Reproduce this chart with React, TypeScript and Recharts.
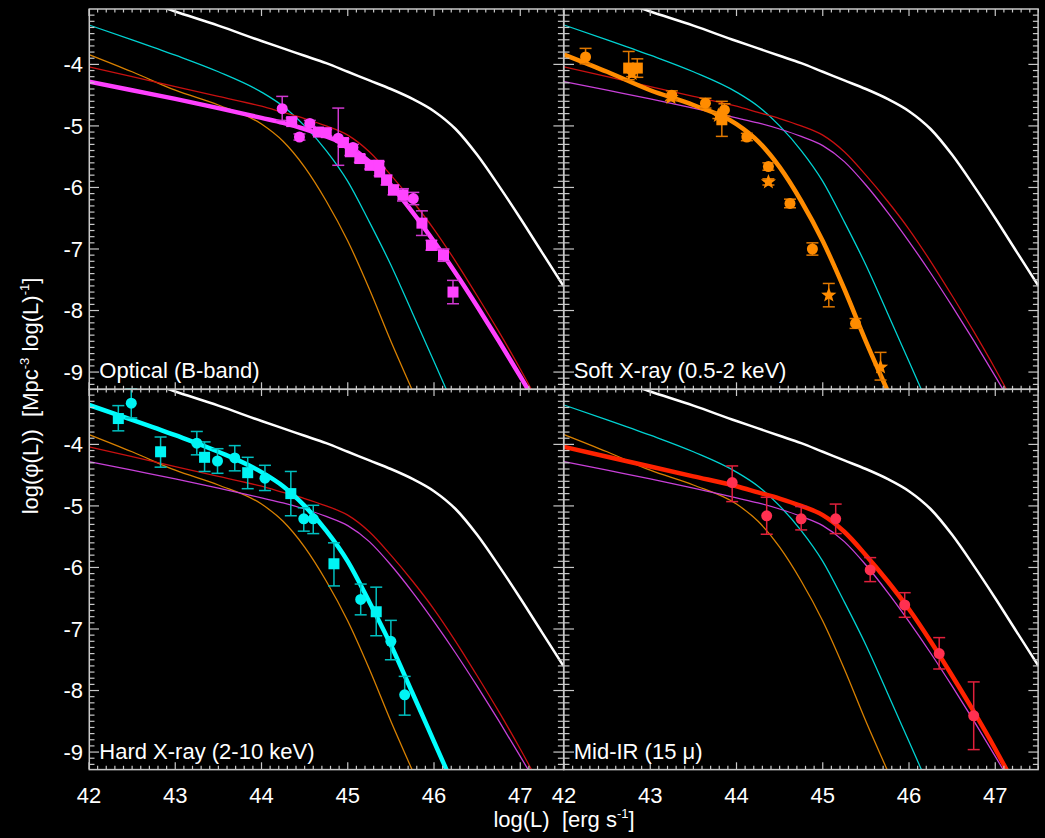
import React from 'react';
import { ComposedChart, Line, Scatter, XAxis, YAxis, ErrorBar } from 'recharts';

// ---------- model curves at a common log(L) grid ----------
const logL = [42, 42.5, 43, 43.5, 44, 44.25, 44.5, 44.75, 45, 45.25, 45.5, 45.75, 46, 46.25, 46.5, 46.75, 47, 47.25, 47.5];
const bolometricLF = [-2.68, -2.9, -3.14, -3.37, -3.62, -3.74, -3.86, -3.98, -4.12, -4.26, -4.4, -4.56, -4.76, -5.05, -5.47, -5.97, -6.5, -7.05, -7.6];
const hardLF = [-3.36, -3.6, -3.85, -4.12, -4.45, -4.68, -5.0, -5.4, -5.9, -6.56, -7.26, -8.04, -8.83, -9.62, null, null, null, null, null];
const softLF = [-3.84, -4.12, -4.42, -4.66, -4.97, -5.25, -5.67, -6.22, -6.87, -7.65, -8.5, -9.3, -10.1, null, null, null, null, null, null];
const midirLF = [-4.04, -4.2, -4.36, -4.52, -4.68, -4.78, -4.88, -5.0, -5.15, -5.42, -5.8, -6.22, -6.68, -7.2, -7.76, -8.34, -8.95, -9.6, null];
const opticalLF = [-4.28, -4.42, -4.56, -4.71, -4.87, -4.95, -5.05, -5.17, -5.32, -5.58, -5.96, -6.4, -6.88, -7.39, -7.93, -8.49, -9.07, -9.66, null];

// ---------- data points: [logL, logPhi, errDown, errUp] ----------
const opticalCircles = [
  [44.24, -4.72, 0.19, 0.2], [44.44, -5.18, 0.05, 0.05], [44.56, -4.96, 0.05, 0.05],
  [44.89, -5.2, 0.44, 0.49], [45.06, -5.35, 0.05, 0.05], [45.76, -6.18, 0.1, 0.1],
];
const opticalSquares = [
  [44.35, -4.93, 0.06, 0.06], [44.66, -5.1, 0.05, 0.05], [44.75, -5.11, 0.05, 0.05],
  [44.95, -5.27, 0.06, 0.06], [45.03, -5.42, 0.06, 0.06], [45.14, -5.53, 0.06, 0.06],
  [45.26, -5.64, 0.06, 0.06], [45.36, -5.64, 0.06, 0.06], [45.37, -5.75, 0.06, 0.06],
  [45.45, -5.88, 0.08, 0.08], [45.53, -6.04, 0.08, 0.08], [45.64, -6.12, 0.1, 0.1],
  [45.86, -6.58, 0.2, 0.2], [45.97, -6.94, 0.08, 0.08], [46.11, -7.1, 0.1, 0.1],
  [46.22, -7.7, 0.19, 0.19],
];
const softCircles = [
  [42.25, -3.88, 0.11, 0.14], [43.25, -4.5, 0.07, 0.07], [43.64, -4.63, 0.08, 0.08],
  [43.86, -4.74, 0.1, 0.1], [44.12, -5.18, 0.06, 0.06], [44.37, -5.66, 0.06, 0.06],
  [44.62, -6.26, 0.07, 0.07], [44.88, -7.0, 0.1, 0.1], [45.38, -8.21, 0.08, 0.08],
];
const softSquares = [
  [42.75, -4.06, 0.19, 0.27], [42.85, -4.06, 0.15, 0.15], [43.83, -4.9, 0.27, 0.3],
];
const softStars = [
  [42.79, -4.15, 0.05, 0.05], [43.24, -4.54, 0.05, 0.05], [43.79, -4.83, 0.05, 0.05],
  [44.37, -5.91, 0.05, 0.05], [45.07, -7.75, 0.19, 0.19], [45.67, -8.92, 0.21, 0.24],
];
const hardCircles = [
  [42.49, -3.33, 0.24, 0.23], [43.25, -3.98, 0.19, 0.19], [43.49, -4.27, 0.2, 0.2],
  [43.69, -4.22, 0.21, 0.2], [44.04, -4.55, 0.2, 0.21], [44.49, -5.21, 0.2, 0.18],
  [44.6, -5.21, 0.24, 0.22], [45.15, -6.52, 0.25, 0.25], [45.5, -7.2, 0.3, 0.34],
  [45.66, -8.07, 0.33, 0.3],
];
const hardSquares = [
  [42.34, -3.58, 0.2, 0.21], [42.83, -4.12, 0.25, 0.24], [43.34, -4.21, 0.23, 0.25],
  [43.84, -4.46, 0.26, 0.25], [44.34, -4.8, 0.36, 0.36], [44.84, -5.94, 0.36, 0.34],
  [45.33, -6.72, 0.39, 0.4],
];
const midirCircles = [
  [43.95, -4.62, 0.31, 0.27], [44.35, -5.16, 0.3, 0.3], [44.75, -5.21, 0.18, 0.2],
  [45.15, -5.21, 0.24, 0.24], [45.55, -6.04, 0.19, 0.2], [45.95, -6.61, 0.2, 0.2],
  [46.35, -7.4, 0.25, 0.26], [46.75, -8.41, 0.55, 0.55],
];

// ---------- tick labels ----------
const xTickLabels = [42, 43, 44, 45, 46, 47];
const yTickLabels = [-9, -8, -7, -6, -5, -4];
const X_DOMAIN: [number, number] = [42, 47.5];
const Y_DOMAIN: [number, number] = [-9.28, -3.1];

// minor tick positions every 0.1
const xTicks = Array.from({ length: 56 }, (_, i) => Math.round((42 + i * 0.1) * 10) / 10);
const yTicks = Array.from({ length: 61 }, (_, i) => Math.round((-9.2 + i * 0.1) * 10) / 10);

// ---------- layout ----------
const PW = 474.4;
const PH = 380.3;
const ML = 70, MR = 10, MT = 10, MB = 50;
const FONT = '"Liberation Sans", Arial, Helvetica, sans-serif';
const AXC = '#c8c8c8';

const curve = (vals: (number | null)[]) =>
  logL.map((L, i) => ({ L, v: vals[i] })).filter((d) => d.v !== null);
const pts = (arr: number[][]) => arr.map(([L, v, lo, hi]) => ({ L, v, e: [lo, hi] }));

const models: Record<string, { data: any[]; thin: string; thick: string }> = {
  cyan: { data: curve(hardLF), thin: '#00d2d2', thick: '#00ffff' },
  orange: { data: curve(softLF), thin: '#d88000', thick: '#ff8c00' },
  red: { data: curve(midirLF), thin: '#c81010', thick: '#ff2200' },
  magenta: { data: curve(opticalLF), thin: '#c840d8', thick: '#ff40ff' },
};
const whiteData = curve(bolometricLF);

const isInt = (v: number) => Math.abs(v - Math.round(v)) < 1e-6;

const makeXTick = (showLabels: boolean) => (props: any) => {
  const { x, y, payload } = props;
  const v = payload.value;
  const major = isInt(v);
  const len = major ? 7 : 3.5;
  const showLab = showLabels && major && xTickLabels.includes(Math.round(v));
  return (
    <g>
      <line x1={x} x2={x} y1={y} y2={y - len} stroke={AXC} strokeWidth={1.2} />
      <line x1={x} x2={x} y1={y - PH} y2={y - PH + len} stroke={AXC} strokeWidth={1.2} />
      {showLab && (
        <text x={x} y={y + 34} textAnchor="middle" fill="#ffffff" fontSize={22} fontFamily={FONT}>
          {Math.round(v)}
        </text>
      )}
    </g>
  );
};

const makeYTick = (showLabels: boolean) => (props: any) => {
  const { x, y, payload } = props;
  const v = payload.value;
  const major = isInt(v);
  const len = major ? 10 : 5.5;
  const showLab = showLabels && major && yTickLabels.includes(Math.round(v));
  return (
    <g>
      <line x1={x} x2={x + len} y1={y} y2={y} stroke={AXC} strokeWidth={1.2} />
      <line x1={x + PW} x2={x + PW - len} y1={y} y2={y} stroke={AXC} strokeWidth={1.2} />
      {showLab && (
        <text x={x - 6} y={y} dy="0.36em" textAnchor="end" fill="#ffffff" fontSize={22} fontFamily={FONT}>
          {`-${Math.abs(Math.round(v))}`}
        </text>
      )}
    </g>
  );
};

const circleShape = (fill: string) => (p: any) => <circle cx={p.cx} cy={p.cy} r={5.5} fill={fill} />;
const squareShape = (fill: string) => (p: any) => (
  <rect x={p.cx - 5.5} y={p.cy - 5.5} width={11} height={11} fill={fill} />
);
const starShape = (fill: string) => (p: any) => {
  const R = 8, r = 3.4;
  const ps: string[] = [];
  for (let i = 0; i < 10; i++) {
    const rad = i % 2 === 0 ? R : r;
    const a = -Math.PI / 2 + (i * Math.PI) / 5;
    ps.push(`${p.cx + rad * Math.cos(a)},${p.cy + rad * Math.sin(a)}`);
  }
  return <polygon points={ps.join(' ')} fill={fill} />;
};

type PanelProps = {
  left: number;
  top: number;
  hi: string;
  sets: { data: any[]; shape: any }[];
  errColor: string;
  xLabels: boolean;
  yLabels: boolean;
};

function Panel({ left, top, hi, sets, errColor, xLabels, yLabels }: PanelProps) {
  const others = ['cyan', 'orange', 'red', 'magenta'].filter((k) => k !== hi);
  return (
    <div style={{ position: 'absolute', left: left - ML, top: top - MT }}>
      <ComposedChart
        width={PW + ML + MR}
        height={PH + MT + MB}
        margin={{ top: MT, right: MR, bottom: MB - 1, left: ML - 1 }}
      >
        <XAxis
          type="number"
          dataKey="L"
          domain={X_DOMAIN}
          allowDataOverflow
          ticks={xTicks}
          interval={0}
          tickSize={0}
          tickMargin={0}
          tickLine={false}
          axisLine={false}
          height={1}
          tick={makeXTick(xLabels)}
        />
        <YAxis
          type="number"
          dataKey="v"
          domain={Y_DOMAIN}
          allowDataOverflow
          ticks={yTicks}
          interval={0}
          tickSize={0}
          tickMargin={0}
          tickLine={false}
          axisLine={false}
          width={1}
          tick={makeYTick(yLabels)}
        />
        {others.map((k) => (
          <Line
            key={k}
            data={models[k].data}
            dataKey="v"
            type="monotone"
            stroke={models[k].thin}
            strokeWidth={1.3}
            dot={false}
            isAnimationActive={false}
          />
        ))}
        <Line
          data={whiteData}
          dataKey="v"
          type="monotone"
          stroke="#ffffff"
          strokeWidth={2.5}
          dot={false}
          isAnimationActive={false}
        />
        <Line
          data={models[hi].data}
          dataKey="v"
          type="monotone"
          stroke={models[hi].thick}
          strokeWidth={4.5}
          dot={false}
          isAnimationActive={false}
        />
        {sets.map((s, i) => (
          <Scatter key={i} data={s.data} dataKey="v" shape={s.shape} isAnimationActive={false}>
            <ErrorBar dataKey="e" direction="y" width={6} stroke={errColor} strokeWidth={1.5} />
          </Scatter>
        ))}
      </ComposedChart>
    </div>
  );
}

const LEFTS = [89.3, 563.7];
const TOPS = [9, 389.3];

export default function App() {
  const magF = '#ff44ff', orgF = '#ff8c00', cyaF = '#00f4f4', redF = '#ff3050';
  const panelLabels = [
    { t: 'Optical (B-band)', x: LEFTS[0], y: TOPS[0] },
    { t: 'Soft X-ray (0.5-2 keV)', x: LEFTS[1], y: TOPS[0] },
    { t: 'Hard X-ray (2-10 keV)', x: LEFTS[0], y: TOPS[1] },
    { t: 'Mid-IR (15 \u03bc)', x: LEFTS[1], y: TOPS[1] },
  ];
  return (
    <div
      style={{
        position: 'absolute',
        left: 0,
        top: 0,
        width: 1045,
        height: 838,
        background: '#000000',
        overflow: 'hidden',
        fontFamily: FONT,
      }}
    >
      <Panel
        left={LEFTS[0]}
        top={TOPS[0]}
        hi="magenta"
        errColor="#d038d0"
        xLabels={false}
        yLabels={true}
        sets={[
          { data: pts(opticalCircles), shape: circleShape(magF) },
          { data: pts(opticalSquares), shape: squareShape(magF) },
        ]}
      />
      <Panel
        left={LEFTS[1]}
        top={TOPS[0]}
        hi="orange"
        errColor="#e07800"
        xLabels={false}
        yLabels={false}
        sets={[
          { data: pts(softCircles), shape: circleShape(orgF) },
          { data: pts(softSquares), shape: squareShape(orgF) },
          { data: pts(softStars), shape: starShape(orgF) },
        ]}
      />
      <Panel
        left={LEFTS[0]}
        top={TOPS[1]}
        hi="cyan"
        errColor="#00c0c0"
        xLabels={true}
        yLabels={true}
        sets={[
          { data: pts(hardCircles), shape: circleShape(cyaF) },
          { data: pts(hardSquares), shape: squareShape(cyaF) },
        ]}
      />
      <Panel
        left={LEFTS[1]}
        top={TOPS[1]}
        hi="red"
        errColor="#e0203c"
        xLabels={true}
        yLabels={false}
        sets={[{ data: pts(midirCircles), shape: circleShape(redF) }]}
      />
      <svg
        width={1045}
        height={838}
        style={{ position: 'absolute', left: 0, top: 0, pointerEvents: 'none' }}
      >
        {LEFTS.map((lx) =>
          TOPS.map((ty) => (
            <rect
              key={`${lx}-${ty}`}
              x={lx}
              y={ty}
              width={PW}
              height={PH}
              fill="none"
              stroke={AXC}
              strokeWidth={1.5}
            />
          ))
        )}
        {panelLabels.map((p) => (
          <text
            key={p.t}
            x={p.x + 10}
            y={p.y + PH - 11}
            fill="#ffffff"
            fontSize={22}
            fontFamily={FONT}
            style={{ whiteSpace: 'pre' }}
          >
            {p.t}
          </text>
        ))}
        <text
          x={564}
          y={827}
          textAnchor="middle"
          fill="#ffffff"
          fontSize={22}
          fontFamily={FONT}
          style={{ whiteSpace: 'pre' }}
        >
          {'log(L)  [erg s'}
          <tspan dy={-9} fontSize={13}>-1</tspan>
          <tspan dy={9}>]</tspan>
        </text>
        <text
          transform="translate(37.5,396) rotate(-90)"
          textAnchor="middle"
          fill="#ffffff"
          fontSize={22}
          fontFamily={FONT}
          style={{ whiteSpace: 'pre' }}
        >
          {'log(\u03c6(L))  [Mpc'}
          <tspan dy={-9} fontSize={13}>-3</tspan>
          <tspan dy={9}>{' log(L)'}</tspan>
          <tspan dy={-9} fontSize={13}>-1</tspan>
          <tspan dy={9}>]</tspan>
        </text>
      </svg>
    </div>
  );
}
